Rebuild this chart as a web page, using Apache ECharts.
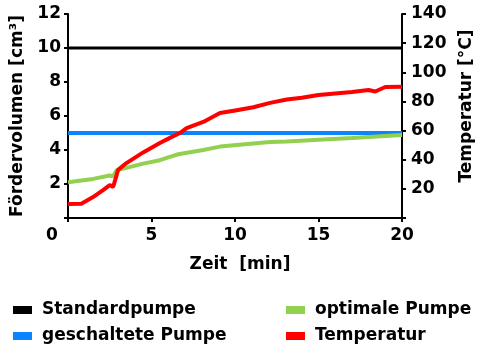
<!DOCTYPE html>
<html>
<head>
<meta charset="utf-8">
<script src="https://cdn.jsdelivr.net/npm/echarts@6/dist/echarts.min.js"></script>
<style>
  html, body { margin: 0; padding: 0; background: #fff; }
  #chart { width: 485px; height: 348px; }
</style>
</head>
<body>
<div id="chart"></div>
<script>
// Zeit [min]
const flatTime = [0, 20];
const standardValues = [10, 10];
const geschaltetValues = [5, 5];

const optimalTime = [0, 1.5, 2.5, 2.7, 2.9, 3.5, 4.5, 5.5, 6.1, 6.6, 8.1, 9.1, 10.1, 12.1, 13.1, 15, 17, 19, 20];
const optimalValues = [2.1, 2.3, 2.5, 2.45, 2.8, 2.95, 3.2, 3.4, 3.6, 3.75, 4.0, 4.2, 4.3, 4.47, 4.5, 4.6, 4.7, 4.82, 4.88];

const tempTime = [0, 0.8, 1.5, 2.1, 2.5, 2.7, 2.85, 3.0, 3.5, 4.5, 5.5, 6.1, 6.7, 7.1, 8.1, 9.1, 10.1, 11.1, 12.1, 13.1, 14, 15, 16, 17, 18, 18.4, 19, 20];
const tempValues = [9.6, 9.8, 14.4, 19.2, 22.6, 21.3, 27, 33, 37.7, 45, 51.4, 55, 58.3, 61.7, 65.9, 72, 74, 76, 79, 81.3, 82.5, 84.4, 85.5, 86.5, 87.8, 86.8, 89.9, 90];

const pairs = (xs, ys) => xs.map((x, i) => [x, ys[i]]);

const chart = echarts.init(document.getElementById('chart'));
const font = 'DejaVu Sans, sans-serif';
const axisText = { color: '#000', fontSize: 17, fontWeight: 'bold', fontFamily: font };
const axisLine = { show: true, lineStyle: { color: '#000', width: 2 } };
const axisTick = { show: true, inside: false, length: 4, lineStyle: { color: '#000', width: 2 } };

// one legend per entry so the 2x2 layout sits where the reference has it
const legendItem = (name, left, top) => ({
  left, top, padding: 0, icon: 'rect', itemWidth: 19, itemHeight: 8,
  textStyle: { color: '#000', fontSize: 17, lineHeight: 20, fontWeight: 'bold', fontFamily: font, padding: [0, 0, 0, 5] },
  data: [name]
});

const option = {
  animation: false,
  backgroundColor: '#fff',
  grid: { left: 68, right: 83, top: 14, bottom: 130, containLabel: false },
  legend: [
    legendItem('Standardpumpe', 13, 300),
    legendItem('geschaltete Pumpe', 13, 326),
    legendItem('optimale Pumpe', 286, 300),
    legendItem('Temperatur', 286, 326)
  ],
  // right axis title, reading bottom-to-top like the left one
  graphic: [{
    type: 'text', x: 467, y: 106, rotation: Math.PI / 2,
    style: {
      text: 'Temperatur [°C]', fill: '#000', align: 'center', verticalAlign: 'middle',
      font: 'bold 17px DejaVu Sans, sans-serif'
    }
  }],
  xAxis: {
    type: 'value', min: 0, max: 20, interval: 5,
    name: 'Zeit  [min]', nameLocation: 'middle', nameGap: 38,
    nameTextStyle: { ...axisText, padding: [0, 0, 0, 10] },
    axisLine, axisTick,
    splitLine: { show: false },
    axisLabel: {
      ...axisText, margin: 9,
      formatter: v => v === 0 ? '{z|0}' : String(v),
      rich: { z: { ...axisText, padding: [0, 32, 0, 0] } }
    }
  },
  yAxis: [
    {
      type: 'value', min: 0, max: 12, interval: 2, position: 'left',
      name: 'Fördervolumen [cm³]', nameLocation: 'middle', nameGap: 40, nameRotate: 90,
      nameTextStyle: axisText,
      axisLine, axisTick,
      splitLine: { show: false },
      axisLabel: { ...axisText, margin: 7, formatter: v => v === 0 ? '' : String(v) }
    },
    {
      type: 'value', min: 0, max: 140, interval: 20, position: 'right',
      axisLine, axisTick,
      splitLine: { show: false },
      axisLabel: { ...axisText, margin: 9, formatter: v => v === 0 ? '' : String(v) }
    }
  ],
  series: [
    {
      name: 'Standardpumpe', type: 'line', yAxisIndex: 0, symbol: 'none',
      itemStyle: { color: '#000000' }, lineStyle: { color: '#000000', width: 3 },
      data: pairs(flatTime, standardValues)
    },
    {
      name: 'geschaltete Pumpe', type: 'line', yAxisIndex: 0, symbol: 'none',
      itemStyle: { color: '#0a84ff' }, lineStyle: { color: '#0a84ff', width: 4 },
      data: pairs(flatTime, geschaltetValues)
    },
    {
      name: 'optimale Pumpe', type: 'line', yAxisIndex: 0, symbol: 'none',
      itemStyle: { color: '#92d050' }, lineStyle: { color: '#92d050', width: 4 },
      data: pairs(optimalTime, optimalValues)
    },
    {
      name: 'Temperatur', type: 'line', yAxisIndex: 1, symbol: 'none',
      itemStyle: { color: '#ff0000' }, lineStyle: { color: '#ff0000', width: 4 },
      data: pairs(tempTime, tempValues)
    }
  ]
};
chart.setOption(option);
</script>
</body>
</html>
